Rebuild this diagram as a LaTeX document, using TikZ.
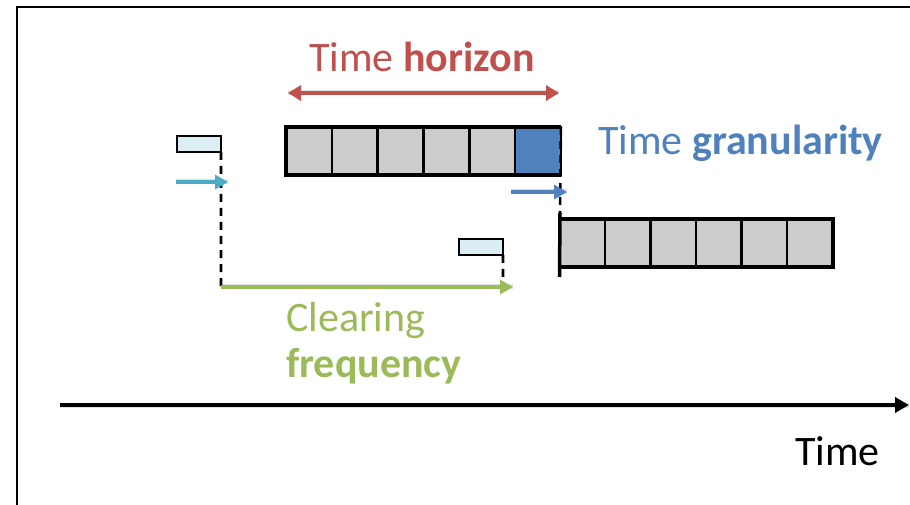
\documentclass[tikz,border=0pt]{standalone}
\usepackage{fontspec}
\setmainfont{Carlito}
\usetikzlibrary{arrows.meta}
\definecolor{hzred}{HTML}{C0504D}
\definecolor{grblue}{HTML}{4F81BD}
\definecolor{clgreen}{HTML}{9BBB59}
\definecolor{evcyan}{HTML}{4BACC6}
\definecolor{evfill}{HTML}{DAEEF3}
\definecolor{cellgray}{HTML}{CCCCCC}

\begin{document}
\begin{tikzpicture}[x=1bp,y=-1bp,
  cell/.style={draw=black,line width=2.5bp,fill=cellgray,minimum width=45.8bp,
    minimum height=48bp,anchor=north west,inner sep=0pt,outer sep=0pt},
  evbox/.style={draw=black,line width=2.5bp,fill=evfill,minimum width=44bp,
    minimum height=16bp,anchor=north west,inner sep=0pt,outer sep=0pt},
  caption/.style={font=\fontsize{42bp}{46bp}\selectfont,anchor=base west,inner sep=0pt},
  guide/.style={draw=black,line width=2.6bp,dash pattern=on 8bp off 6bp},
  barline/.style={draw=black,line width=3.5bp},
  fatarrow/.style={line width=4.5bp,-{Triangle[length=13bp,width=14bp]}},
  shade/.style={draw=black,opacity=0.12,line width=5bp,shift={(1,4)}}
]
\useasboundingbox (0,0) rectangle (910,505);

% slide frame
\draw[line width=1.5bp] (17,505) -- (17,7) -- (910,7);

% time horizon: current window of six periods, last one highlighted
\foreach \i in {0,...,4}
  \node[cell] (h\i) at ({286+45.83*\i},127) {};
\node[cell,fill=grblue] (h5) at ({286+45.83*5},127) {};
\draw[barline] (h5.north east) -- (h0.north west) -- (h0.south west) -- (h5.south east);
\coordinate (gtop) at (560,213);
\draw[guide] (h5.north east) -- (gtop);

% next window, shifted by one period
\foreach \i in {0,...,5}
  \node[cell] (n\i) at ({559.5+45.5*\i},219) {};
\draw[barline] (n0.north west) -- (n5.north east) -- (n5.south east) -- (n0.south west);
\coordinate (gbot) at (559.5,277);
\draw[barline] (gtop) -- (gbot);

% horizon arrow
\coordinate (hl) at (288,93);
\coordinate (hr) at (559,93);
\draw[shade] (hl) -- (hr);
\draw[hzred,line width=4.5bp,{Triangle[length=13bp,width=15bp]}-{Triangle[length=13bp,width=15bp]}] (hl) -- (hr);
\node[caption,text=hzred] (thz) at (309,72) {Time \textbf{horizon}};

% granularity step arrow
\coordinate (gl) at (511,192);
\coordinate (gr) at (567,192);
\draw[shade] (gl) -- (gr);
\draw[grblue,fatarrow] (gl) -- (gr);
\node[caption,text=grblue] (tgr) at (598,155) {Time \textbf{granularity}};

% clearing events
\node[evbox] (e1) at (177,136) {};
\node[evbox] (e2) at (459,239) {};
\coordinate (c1) at (221,287);
\coordinate (c2) at (513,287);
\coordinate (c2d) at (503,287);
\draw[guide] (e1.south east) -- (c1);
\draw[guide] (e2.south east) -- (c2d);
\coordinate (al) at (176,182);
\coordinate (ar) at (228,182);
\draw[shade] (al) -- (ar);
\draw[evcyan,fatarrow] (al) -- (ar);
\draw[shade] (c1) -- (c2);
\draw[clgreen,fatarrow] (c1) -- (c2);
\node[caption,text=clgreen] (tc1) at (286,332) {Clearing};
\node[caption,text=clgreen] (tc2) at (286,377) {\textbf{frequency}};

% time axis
\coordinate (ax0) at (60,405);
\coordinate (ax1) at (909,405);
\draw[shade] (ax0) -- (ax1);
\draw[line width=4.5bp,-{Triangle[length=14bp,width=15bp]}] (ax0) -- (ax1);
\node[caption] (tax) at (795,465) {Time};
\end{tikzpicture}
\end{document}
